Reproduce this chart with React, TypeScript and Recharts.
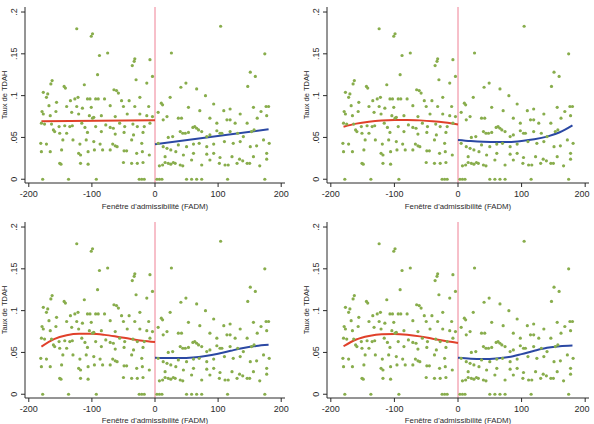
import React from 'react';
import { ComposedChart, Scatter, Line, XAxis, YAxis, ReferenceLine, Label } from 'recharts';

// observed rates, left of the cutoff (FADM < 0)
const leftDots: [number, number][] = [
  [-124, .180], [-99, .174], [-101, .171], [-88, .148], [-75, .151], [-32, .144], [-33, .141], [-36, .136],
  [-8, .143], [-91, .125], [-4, .123], [-30, .119], [-163, .118], [-165, .114], [-13, .115], [-112, .113],
  [-144, .111], [-142, .109], [-177, .104], [-170, .102], [-65, .107], [-61, .106], [-58, .103], [-172, .098],
  [-122, .098], [-127, .096], [-134, .094], [-107, .096], [-103, .096], [-94, .096], [-90, .096], [-80, .096],
  [-53, .094], [-41, .094], [-24, .098], [-156, .092], [-168, .088], [-140, .087], [-124, .087], [-115, .085],
  [-101, .086], [-71, .088], [-50, .087], [-32, .087], [-10, .087], [-179, .081], [-177, .078], [-166, .076],
  [-157, .081], [-132, .080], [-121, .078], [-104, .076], [-97, .074], [-99, .073], [-85, .076], [-63, .075],
  [-44, .078], [-24, .078], [-13, .076], [-4, .075], [-180, .067], [-175, .066], [-164, .066], [-152, .063],
  [-143, .064], [-135, .063], [-131, .064], [-116, .067], [-111, .062], [-94, .063], [-78, .065], [-71, .062],
  [-66, .061], [-56, .067], [-48, .063], [-35, .066], [-28, .063], [-17, .063], [-8, .067], [-161, .059],
  [-159, .057], [-151, .055], [-140, .055], [-107, .056], [-85, .057], [-63, .054], [-49, .056], [-34, .053],
  [-19, .056], [-181, .043], [-172, .042], [-146, .047], [-130, .047], [-119, .042], [-109, .047], [-97, .045],
  [-87, .042], [-67, .042], [-63, .040], [-60, .039], [-37, .047], [-21, .043], [-180, .033], [-166, .033],
  [-148, .035], [-121, .031], [-118, .029], [-106, .033], [-96, .035], [-83, .035], [-71, .035], [-49, .034],
  [-45, .034], [-29, .031], [-20, .033], [-9, .029], [-151, .019], [-149, .018], [-118, .019], [-106, .018],
  [-50, .020], [-37, .019], [-28, .019], [-19, .020], [-178, 0], [-137, 0], [-93, 0], [-25, 0], [-21, 0], [-17, 0],
];

// observed rates, right of the cutoff (FADM >= 0)
const rightDots: [number, number][] = [
  [104, .183], [26, .151], [174, .150], [151, .128], [159, .123], [49, .115], [41, .110], [147, .111],
  [66, .108], [24, .098], [80, .100], [10, .091], [12, .089], [5, .080], [19, .075], [53, .086],
  [71, .082], [93, .090], [109, .082], [119, .084], [135, .078], [156, .086], [168, .081], [176, .087],
  [180, .087], [13, .071], [37, .073], [42, .073], [63, .063], [60, .062], [66, .061], [87, .073],
  [98, .067], [114, .071], [119, .071], [127, .067], [146, .067], [162, .073], [177, .076], [21, .050],
  [28, .051], [40, .057], [44, .055], [48, .055], [53, .056], [69, .059], [74, .057], [82, .051],
  [87, .053], [98, .058], [103, .055], [106, .055], [119, .057], [131, .055], [140, .051], [153, .057],
  [157, .059], [172, .047], [181, .043], [5, .043], [13, .039], [19, .037], [25, .035], [37, .041],
  [50, .039], [61, .042], [70, .043], [82, .039], [93, .042], [110, .045], [124, .043], [135, .045],
  [151, .039], [161, .040], [16, .027], [33, .033], [45, .029], [61, .031], [82, .030], [93, .031],
  [103, .026], [122, .027], [134, .024], [156, .027], [177, .031], [7, .016], [12, .017], [16, .020],
  [21, .019], [25, .018], [29, .020], [32, .019], [40, .017], [44, .016], [58, .023], [74, .017],
  [87, .023], [102, .019], [111, .017], [116, .017], [130, .019], [139, .022], [146, .019], [150, .019],
  [166, .016], [177, .024], [3, 0], [7, 0], [11, 0], [50, 0], [58, 0], [66, 0], [74, 0], [115, 0], [174, 0],
];

// fitted curves
const fitLeftX = [-180, -160, -140, -120, -100, -80, -60, -40, -20, 0];
const fitRightX = [0, 20, 40, 60, 80, 100, 120, 140, 160, 180];

const linLeftX = [-180, 0];
const linLeftY = [0.0693, 0.0705];
const linRightX = [0, 180];
const linRightY = [0.0418, 0.0598];

const quadLeftY = [0.0628, 0.0665, 0.0688, 0.0702, 0.0708, 0.0709, 0.0704, 0.0694, 0.0678, 0.0656];
const quadRightY = [0.047, 0.0457, 0.0448, 0.0444, 0.0446, 0.0458, 0.0478, 0.051, 0.0562, 0.0645];

const cubLeftY = [0.057, 0.066, 0.0705, 0.0722, 0.0722, 0.071, 0.0688, 0.0663, 0.064, 0.0625];
const cubRightY = [0.0437, 0.0433, 0.0433, 0.044, 0.0458, 0.0485, 0.052, 0.0553, 0.0578, 0.0592];

const quartLeftY = [0.0574, 0.0655, 0.0697, 0.0718, 0.0721, 0.0712, 0.0692, 0.0664, 0.0637, 0.0614];
const quartRightY = [0.0436, 0.0425, 0.0422, 0.0428, 0.0445, 0.048, 0.052, 0.0555, 0.0575, 0.0583];

const xTicks = [-200, -100, 0, 100, 200];
const yTicks = [0, 0.05, 0.1, 0.15, 0.2];
const yTickLabels = ['0', '.05', '.1', '.15', '.2'];

const toPts = (xs: number[], ys: number[]) => xs.map((x, i) => ({ x, y: ys[i] }));
const dots = [...leftDots, ...rightDots].map(([x, y]) => ({ x, y }));

const FONT = 'Liberation Sans, Arial, sans-serif';
const INK = '#2a2a2a';

const Dot = (p: any) => <circle cx={p.cx} cy={p.cy} r={1.6} fill="#88ad4c" />;

const XTick = ({ x, y, payload }: any) => (
  <text x={x} y={y} textAnchor="middle" fontSize={9} fontFamily={FONT} fill={INK}>{payload.value}</text>
);

const YTick = ({ x, y, index }: any) => (
  <text transform={`translate(${x},${y}) rotate(-90)`} textAnchor="middle" fontSize={9} fontFamily={FONT} fill={INK}>
    {yTickLabels[index]}
  </text>
);

type PanelProps = {
  left: number; top: number; width: number; height: number;
  yW: number; mTop: number; mRight: number;
  fitL: { x: number; y: number }[]; fitR: { x: number; y: number }[];
};

const PLOT_H = 176;

const Panel = ({ left, top, width, height, yW, mTop, mRight, fitL, fitR }: PanelProps) => {
  const plotW = width - yW - mRight;
  const titleY = Math.min(mTop + PLOT_H + 26, height - 1.5);
  return (
    <div style={{ position: 'absolute', left, top }}>
      <ComposedChart width={width} height={height} margin={{ top: mTop, right: mRight, left: 0, bottom: 0 }}>
        <XAxis type="number" dataKey="x" domain={[-206, 206]} ticks={xTicks} allowDataOverflow
          height={height - mTop - PLOT_H} tickSize={4} tickMargin={9.5} tick={<XTick />}
          stroke={INK} tickLine={{ stroke: INK }}>
          <Label content={() => (
            <text x={yW + plotW / 2} y={titleY} textAnchor="middle" fontSize={7.8}
              fontFamily={FONT} fill={INK}>Fenêtre d'admissibilité (FADM)</text>
          )} />
        </XAxis>
        <YAxis type="number" dataKey="y" domain={[-0.0045, 0.206]} ticks={yTicks} allowDataOverflow
          width={yW} tickSize={4} tickMargin={4.5} tick={<YTick />} stroke={INK} tickLine={{ stroke: INK }}>
          <Label content={() => (
            <text transform={`translate(${yW - 18.5},${mTop + PLOT_H / 2}) rotate(-90)`} textAnchor="middle"
              fontSize={7.5} fontFamily={FONT} fill={INK}>Taux de TDAH</text>
          )} />
        </YAxis>
        <Scatter data={dots} dataKey="y" shape={<Dot />} isAnimationActive={false} />
        <ReferenceLine x={0} stroke="#ef8094" strokeWidth={1} />
        <Line data={fitL} dataKey="y" type="monotone" stroke="#e0402a" strokeWidth={2} dot={false} isAnimationActive={false} />
        <Line data={fitR} dataKey="y" type="monotone" stroke="#2b48a3" strokeWidth={2} dot={false} isAnimationActive={false} />
      </ComposedChart>
    </div>
  );
};

export default function App() {
  return (
    <div style={{ position: 'absolute', left: 0, top: 0, width: 594, height: 424, background: '#fff', overflow: 'hidden' }}>
      <Panel left={0} top={0} width={297} height={212} yW={25} mTop={7} mRight={12}
        fitL={toPts(linLeftX, linLeftY)} fitR={toPts(linRightX, linRightY)} />
      <Panel left={295} top={0} width={299} height={212} yW={32} mTop={7} mRight={5}
        fitL={toPts(fitLeftX, quadLeftY)} fitR={toPts(fitRightX, quadRightY)} />
      <Panel left={0} top={210} width={297} height={214} yW={25} mTop={12} mRight={12}
        fitL={toPts(fitLeftX, cubLeftY)} fitR={toPts(fitRightX, cubRightY)} />
      <Panel left={295} top={210} width={299} height={214} yW={32} mTop={12} mRight={5}
        fitL={toPts(fitLeftX, quartLeftY)} fitR={toPts(fitRightX, quartRightY)} />
    </div>
  );
}
